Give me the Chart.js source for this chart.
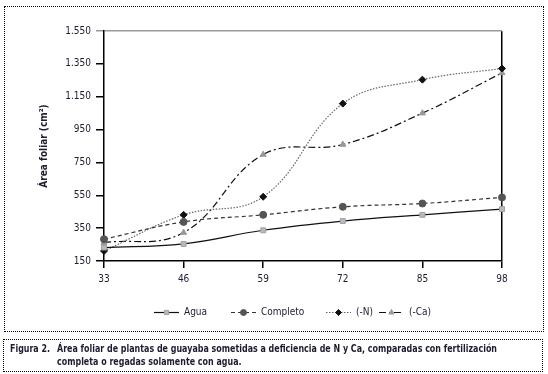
<!DOCTYPE html>
<html>
<head>
<meta charset="utf-8">
<script src="https://cdn.jsdelivr.net/npm/chart.js@4/dist/chart.umd.min.js"></script>
<style>
  html, body { margin: 0; padding: 0; background: #fff; }
  #wrap { position: relative; width: 548px; height: 374px; overflow: hidden; }
  #c { position: absolute; left: 0; top: 0; }
  .box { position: absolute; border: 1px dotted #000; box-sizing: border-box; }
  #outer { left: 4px; top: 6px; width: 540px; height: 326px; }
  #capbox { left: 3px; top: 339px; width: 540px; height: 33px; }
  .cap { position: absolute; font-family: "DejaVu Sans Condensed", "Liberation Sans Narrow", sans-serif; font-weight: bold; font-size: 11px; color: #1c1c30; line-height: 13px; white-space: nowrap; transform-origin: 0 0; }
  #capLabel { left: 10px; top: 342px; }
  #capL1 { left: 57px; top: 342px; }
  #capL2 { left: 57px; top: 355px; }
</style>
</head>
<body>
<div id="wrap">
  <canvas id="c" width="548" height="374"></canvas>
  <div class="box" id="outer"></div>
  <div class="box" id="capbox"></div>
  <div class="cap" id="capLabel">Figura 2.</div>
  <div class="cap" id="capL1">Área foliar de plantas de guayaba sometidas a deficiencia de N y Ca, comparadas con fertilización</div>
  <div class="cap" id="capL2">completa o regadas solamente con agua.</div>
</div>
<script>
const categories = ['33', '46', '59', '72', '85', '98'];
const agua      = [232, 254, 337, 393, 431, 466];
const completo  = [283, 388, 431, 480, 500, 537];
const menosN    = [211, 431, 541, 1108, 1254, 1322];
const menosCa   = [262, 323, 798, 859, 1050, 1295];
const seriesNames = ['Agua', 'Completo', '(-N)', '(-Ca)'];
const yMin = 150, yMax = 1550, yStep = 200;
const yTitle = 'Área foliar (cm²)';

const FONT = '"DejaVu Sans Condensed", "Liberation Sans Narrow", sans-serif';
const TXT = '#1c1c30';

// condense caption text horizontally to the reference widths
(function () {
  const fit = (id, w) => {
    const el = document.getElementById(id);
    const s = w / el.getBoundingClientRect().width;
    el.style.transform = 'scaleX(' + s + ')';
  };
  fit('capLabel', 40);
  fit('capL1', 440);
  const l1 = document.getElementById('capL1');
  document.getElementById('capL2').style.transform = l1.style.transform;
})();

function fmt(v) {
  return String(v).replace(/\B(?=(\d{3})+(?!\d))/g, '.');
}

const legendX = [154, 231, 326, 379];
const legendPlugin = {
  id: 'lineLegend',
  afterDraw(chart) {
    const ctx = chart.ctx;
    const y = 312.5;
    chart.data.datasets.forEach((ds, i) => {
      const x0 = legendX[i];
      const x1 = x0 + 25;
      ctx.save();
      ctx.strokeStyle = ds.borderColor;
      ctx.lineWidth = ds.borderWidth;
      ctx.setLineDash(ds.borderDash || []);
      ctx.beginPath();
      ctx.moveTo(x0, y);
      ctx.lineTo(x1, y);
      ctx.stroke();
      ctx.setLineDash([]);
      ctx.fillStyle = ds.pointBackgroundColor;
      ctx.strokeStyle = ds.pointBorderColor;
      ctx.lineWidth = 1;
      Chart.helpers.drawPoint(ctx, {
        pointStyle: ds.pointStyle,
        radius: ds.pointRadius - 0.5,
        borderWidth: 1
      }, (x0 + x1) / 2, y);
      ctx.fillStyle = TXT;
      ctx.font = '10px ' + FONT;
      ctx.textBaseline = 'middle';
      ctx.fillText(ds.label, x1 + 5, y);
      ctx.restore();
    });
  }
};

new Chart(document.getElementById('c'), {
  type: 'line',
  data: {
    labels: categories,
    datasets: [
      { label: seriesNames[0], data: agua, borderColor: '#111', borderWidth: 1.2, borderDash: [],
        pointStyle: 'rect', pointRadius: 3.5, pointBackgroundColor: '#b8b8c0', pointBorderColor: '#a0a0a8', pointBorderWidth: 1, tension: 0.4 },
      { label: seriesNames[1], data: completo, borderColor: '#333', borderWidth: 1.2, borderDash: [4, 3],
        pointStyle: 'circle', pointRadius: 3.5, pointBackgroundColor: '#555', pointBorderColor: '#555', pointBorderWidth: 1, tension: 0.4 },
      { label: seriesNames[2], data: menosN, borderColor: '#666', borderWidth: 1.2, borderDash: [1.5, 1.5],
        pointStyle: 'rectRot', pointRadius: 3.5, pointBackgroundColor: '#111', pointBorderColor: '#111', pointBorderWidth: 1, tension: 0.4 },
      { label: seriesNames[3], data: menosCa, borderColor: '#111', borderWidth: 1.2, borderDash: [7, 3, 2, 3],
        pointStyle: 'triangle', pointRadius: 3.5, pointBackgroundColor: '#999', pointBorderColor: '#999', pointBorderWidth: 1, tension: 0.4 }
    ]
  },
  options: {
    responsive: false,
    animation: false,
    layout: { padding: { left: 0, right: 46, top: 31, bottom: 0 } },
    plugins: { legend: { display: false }, tooltip: { enabled: false } },
    scales: {
      x: {
        offset: false,
        afterFit(scale) { scale.height = 113; },
        border: { color: '#000', width: 1.5 },
        grid: {
          drawOnChartArea: true,
          color: (c) => (c.index === categories.length - 1 ? '#000' : 'rgba(0,0,0,0)'),
          lineWidth: 1.5,
          tickColor: '#000',
          tickLength: 7
        },
        ticks: { color: TXT, font: { family: FONT, size: 10 }, padding: 5, maxRotation: 0 }
      },
      y: {
        min: yMin, max: yMax,
        afterFit(scale) { scale.width = 104; },
        border: { color: '#000', width: 1.5 },
        grid: {
          drawOnChartArea: true,
          color: (c) => (c.tick && c.tick.value === yMax ? '#999' : 'rgba(0,0,0,0)'),
          lineWidth: 1.5,
          tickColor: (c) => (c.tick && c.tick.value === yMax ? '#999' : '#000'),
          tickLength: 8
        },
        ticks: { stepSize: yStep, color: TXT, font: { family: FONT, size: 10 }, padding: 5,
          callback: (v) => fmt(v) },
        title: { display: true, text: yTitle, color: TXT, font: { family: FONT, size: 10, weight: 'bold' },
          padding: { top: 38, bottom: 0 } }
      }
    }
  },
  plugins: [legendPlugin]
});
</script>
</body>
</html>
